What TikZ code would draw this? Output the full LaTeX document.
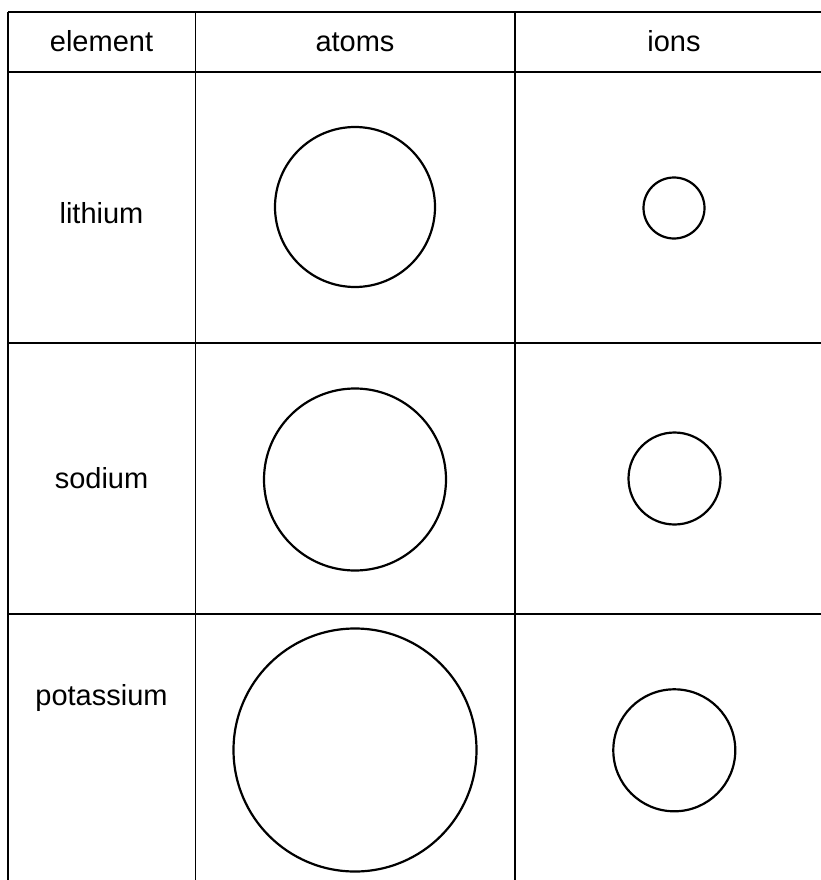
\documentclass[tikz,border=0pt]{standalone}
\usepackage{fontspec}
\setmainfont{Liberation Sans}
\begin{document}
\begin{tikzpicture}[x=1pt,y=-1pt,
  gridline/.style={line width=1.8pt,black},
  ball/.style={circle,draw,line width=2.2pt,inner sep=0pt},
  lbl/.style={font=\fontsize{29}{34}\selectfont,inner sep=0pt,anchor=base}]
\useasboundingbox (0,0) rectangle (821,880);
% table grid
\coordinate (tl) at (8,12);
\coordinate (tr) at (830,12);
\coordinate (h1l) at (8,72);
\coordinate (h1r) at (830,72);
\coordinate (h2l) at (8,343);
\coordinate (h2r) at (830,343);
\coordinate (h3l) at (8,614);
\coordinate (h3r) at (830,614);
\coordinate (bl) at (8,885);
\coordinate (v1t) at (195.5,12);
\coordinate (v1b) at (195.5,885);
\coordinate (v2t) at (514.7,12);
\coordinate (v2b) at (514.7,885);
\draw[gridline] (tl) -- (tr);
\draw[gridline] (h1l) -- (h1r);
\draw[gridline] (h2l) -- (h2r);
\draw[gridline] (h3l) -- (h3r);
\draw[gridline] (tl) -- (bl);
\draw[gridline] (v1t) -- (v1b);
\draw[gridline] (v2t) -- (v2b);
% header
\node[lbl] (hel) at (101.5,52) {element};
\node[lbl] (hat) at (355,52) {atoms};
\node[lbl] (hio) at (674,52) {ions};
% row labels
\node[lbl] (li) at (101.5,223) {lithium};
\node[lbl] (na) at (101.5,488) {sodium};
\node[lbl] (k) at (101.5,705) {potassium};
% circles
\node[ball,minimum size=160] (liat) at (355,207) {};
\node[ball,minimum size=61] (liion) at (674,208) {};
\node[ball,minimum size=182] (naat) at (355,479.5) {};
\node[ball,minimum size=92] (naion) at (674.5,478.5) {};
\node[ball,minimum size=243] (kat) at (355,750) {};
\node[ball,minimum size=122] (kion) at (674.3,750.3) {};
\end{tikzpicture}
\end{document}
